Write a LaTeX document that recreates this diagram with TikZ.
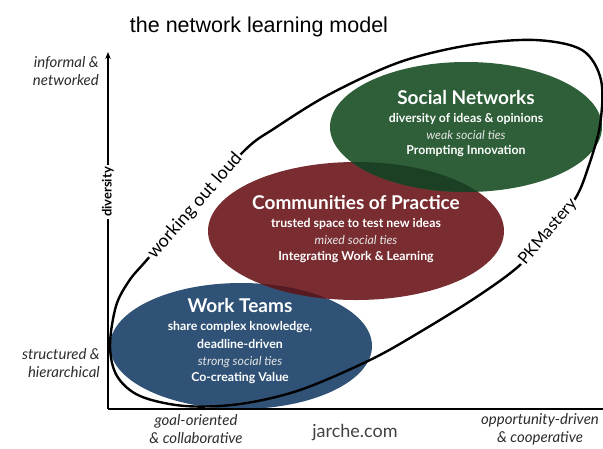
\documentclass[tikz,border=0pt]{standalone}
\usepackage{fontspec}
\setmainfont{Lato}
\newfontfamily\titlefont{Liberation Sans}
\usetikzlibrary{arrows.meta}
\definecolor{wtblue}{RGB}{47,82,118}
\definecolor{cpred}{RGB}{121,45,49}
\definecolor{sngreen}{RGB}{46,95,56}
\definecolor{rbover}{RGB}{86,26,34}
\definecolor{grover}{RGB}{28,64,36}
\definecolor{axisgray}{RGB}{45,45,45}
\tikzset{
  headtxt/.style={text=white,inner sep=0.5pt,font=\bfseries\fontsize{19}{21}\selectfont},
  bodytxt/.style={text=white,inner sep=0.5pt,font=\bfseries\fontsize{12.3}{14}\selectfont},
  tietxt/.style={text=white!80!gray,inner sep=0.5pt,font=\itshape\fontsize{12.3}{14}\selectfont},
  axislbl/.style={text=axisgray,font=\itshape\fontsize{15}{18}\selectfont,align=center,inner sep=0pt},
  curvelbl/.style={fill=white,text=black,inner sep=1.5pt,font=\fontsize{18}{20}\selectfont},
  loopline/.style={line width=2.4pt,black},
  axisline/.style={line width=1.4pt,black}
}
\begin{document}
\begin{tikzpicture}[x=1pt,y=-1pt]
\useasboundingbox (0,0) rectangle (603,448);
\fill[white] (0,0) rectangle (603,448);
% title
\node[font=\titlefont\fontsize{21.5}{24}\selectfont] (title) at (259,27) {the network learning model};
% ellipses
\fill[wtblue] (241,346) ellipse [x radius=131,y radius=63];
\fill[cpred] (356,231) ellipse [x radius=148,y radius=69];
\fill[sngreen] (466,127) ellipse [x radius=136,y radius=65];
\begin{scope}
  \clip (241,346) ellipse [x radius=131,y radius=63];
  \fill[rbover] (356,231) ellipse [x radius=148,y radius=69];
\end{scope}
\begin{scope}
  \clip (356,231) ellipse [x radius=148,y radius=69];
  \fill[grover] (466,127) ellipse [x radius=136,y radius=65];
\end{scope}
% ellipse texts
\node[headtxt] (snh) at (466,98) {Social Networks};
\node[bodytxt] (snb) at (466,119) {diversity of ideas \& opinions};
\node[tietxt] (snt) at (466,135) {weak social ties};
\node[bodytxt] (snv) at (466,151) {Prompting Innovation};
\node[headtxt] (cph) at (356,203) {Communities of Practice};
\node[bodytxt] (cpb) at (356,224) {trusted space to test new ideas};
\node[tietxt] (cpt) at (356,240) {mixed social ties};
\node[bodytxt] (cpv) at (356,257) {Integrating Work \& Learning};
\node[headtxt] (wth) at (240,306) {Work Teams};
\node[bodytxt] (wtb) at (240,327) {share complex knowledge,};
\node[bodytxt] (wtd) at (240,344) {deadline-driven};
\node[tietxt] (wtt) at (240,362) {strong social ties};
\node[bodytxt] (wtv) at (240,378) {Co-creating Value};
% big loop
\draw[loopline] plot[smooth cycle,tension=0.55] coordinates {
  (110,346) (116,306) (129,281) (145,262) (195,206) (245,150) (275,128)
  (330,94) (400,62) (470,45) (535,40) (582,50) (601,80) (600,125)
  (588,168) (575,199) (548,232) (520,265) (478,296) (420,332) (370,360)
  (300,390) (240,404) (185,406) (140,396) (117,376)};
\node[curvelbl,rotate=49] (wol) at (195,206) {working out loud};
\node[curvelbl,rotate=50,font=\fontsize{16.5}{18}\selectfont] (pkm) at (548,232) {PKMastery};
% axes
\coordinate (O) at (108,409);
\coordinate (ytop) at (108,52);
\coordinate (xend) at (603,409);
\draw[axisline,-{Stealth[length=7pt,width=5.5pt]}] (O) -- (ytop);
\draw[axisline] (O) -- (xend);
\node[fill=white,inner sep=2.5pt,rotate=90,font=\bfseries\fontsize{13}{15}\selectfont] (div) at (108,192) {diversity};
% axis labels
\node[axislbl,anchor=east,align=right] (inf) at (99,71) {informal \&\\networked};
\node[axislbl,anchor=east,align=right] (str) at (100,363) {structured \&\\hierarchical};
\node[axislbl] (goal) at (196,429) {goal-oriented\\\& collaborative};
\node[axislbl] (opp) at (540,429) {opportunity-driven\\\& cooperative};
\node[text=axisgray!90,font=\fontsize{18}{20}\selectfont] (jar) at (355,433) {jarche.com};
\end{tikzpicture}
\end{document}
